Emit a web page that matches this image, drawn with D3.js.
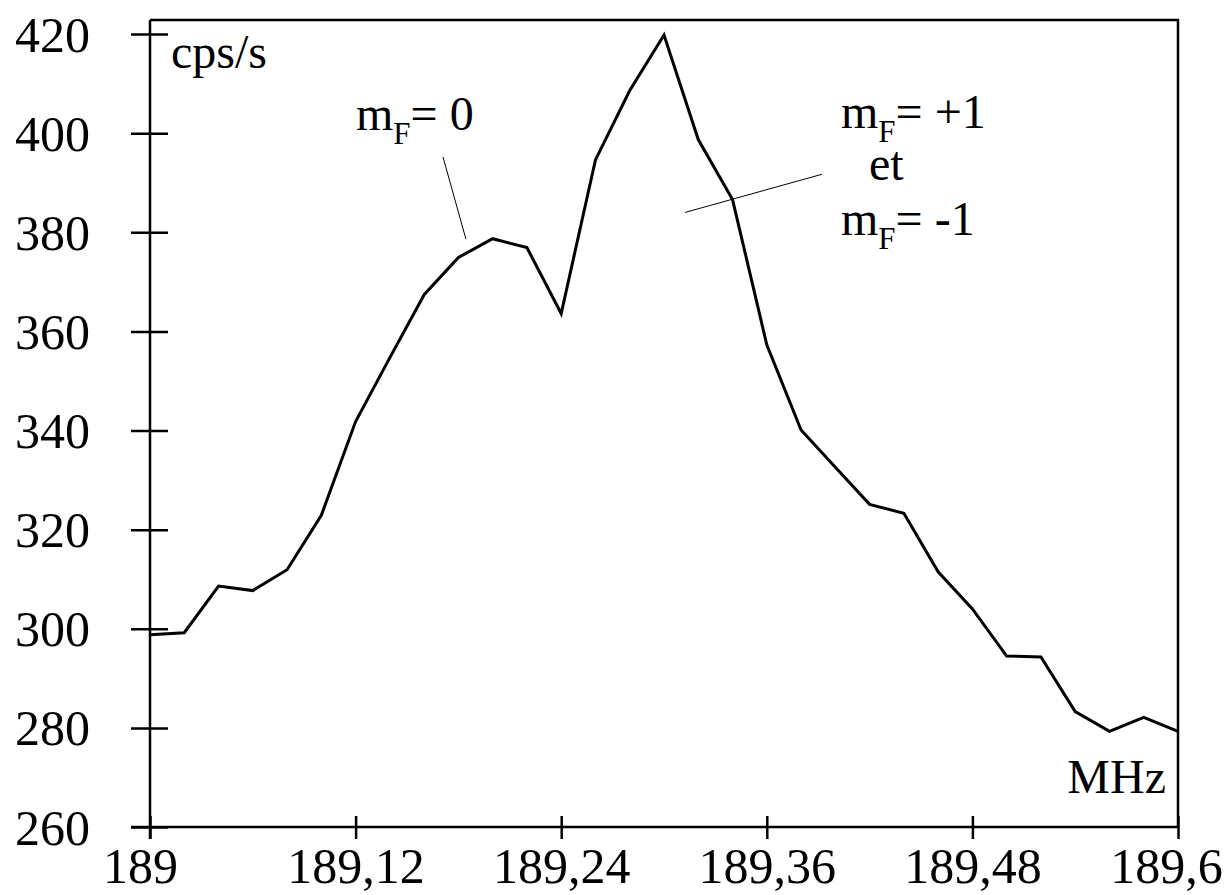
<!DOCTYPE html>
<html>
<head>
<meta charset="utf-8">
<script src="https://cdn.jsdelivr.net/npm/d3@7"></script>
<style>
  html, body { margin: 0; padding: 0; background: #fff; }
  svg { display: block; }
  svg text { font-family: "Liberation Serif", "Times New Roman", Tinos, "DejaVu Serif", serif !important; fill: #000; }
</style>
</head>
<body>
<script>
// Frequency sweep (MHz) and measured count rate (cps/s)
const freqs = [189.00, 189.02, 189.04, 189.06, 189.08, 189.10, 189.12, 189.14, 189.16, 189.18,
               189.20, 189.22, 189.24, 189.26, 189.28, 189.30, 189.32, 189.34, 189.36, 189.38,
               189.40, 189.42, 189.44, 189.46, 189.48, 189.50, 189.52, 189.54, 189.56, 189.58, 189.60];
const counts = [298.8, 299.2, 308.6, 307.7, 311.9, 322.9, 341.8, 354.7, 367.4, 374.9,
                378.7, 376.9, 363.6, 394.6, 408.6, 419.8, 398.7, 386.6, 357.3, 340.1,
                332.6, 325.1, 323.3, 311.5, 304.0, 294.5, 294.3, 283.3, 279.3, 282.1, 279.3];

const xTicks = [189, 189.12, 189.24, 189.36, 189.48, 189.6];
const xTickLabels = ["189", "189,12", "189,24", "189,36", "189,48", "189,6"];
const yTicks = [260, 280, 300, 320, 340, 360, 380, 400, 420];
const yTickLabels = ["260", "280", "300", "320", "340", "360", "380", "400", "420"];

// Leader lines pointing from the labels to the peaks (data units)
const leaderZero = [[189.171, 395.2], [189.1844, 378.6]];
const leaderPlusMinus = [[189.3123, 384.0], [189.3922, 391.7]];

const W = 1228, H = 895;
const mLeft = 150, mRight = 1178, mTop = 20, mBottom = 827;

const x = d3.scaleLinear().domain([189, 189.6]).range([mLeft, mRight]);
const y = d3.scaleLinear().domain([260, 420]).range([mBottom, 34]);

const svg = d3.select("body").append("svg").attr("width", W).attr("height", H);

// Frame: top and right edges
svg.append("path")
  .attr("d", `M${mLeft},${mTop}H${mRight}V${mBottom}`)
  .attr("fill", "none").attr("stroke", "#000").attr("stroke-width", 2.5);

// Y axis
const gy = svg.append("g").attr("transform", `translate(${mLeft},0)`)
  .call(d3.axisLeft(y).tickValues(yTicks).tickFormat((d, i) => yTickLabels[i]).tickSize(0));
gy.attr("font-family", null).attr("font-size", null);
gy.select(".domain").remove();
gy.append("line").attr("x1", 0).attr("x2", 0).attr("y1", mTop).attr("y2", mBottom + 12)
  .attr("stroke", "#000").attr("stroke-width", 2.5);
gy.selectAll(".tick line").attr("x1", -19).attr("x2", 18).attr("stroke", "#000").attr("stroke-width", 2.5);
gy.selectAll(".tick text")
  .attr("x", -60).attr("dy", "0.34em")
  .style("font-size", "50px");

// X axis
const gx = svg.append("g").attr("transform", `translate(0,${mBottom})`)
  .call(d3.axisBottom(x).tickValues(xTicks).tickFormat((d, i) => xTickLabels[i]).tickSize(0));
gx.attr("font-family", null).attr("font-size", null);
gx.select(".domain").remove();
gx.append("line").attr("x1", mLeft - 19).attr("x2", mRight).attr("y1", 0).attr("y2", 0)
  .attr("stroke", "#000").attr("stroke-width", 2.5);
gx.selectAll(".tick line").attr("y1", -11).attr("y2", 12).attr("stroke", "#000").attr("stroke-width", 2.5);
gx.selectAll(".tick text")
  .attr("y", 56).attr("dy", 0)
  .attr("dx", (d, i) => i === 0 ? -10 : (i === xTicks.length - 1 ? -12 : 0))
  .style("font-size", "50px");

// Data curve
const line = d3.line().x((d, i) => x(freqs[i])).y(d => y(d));
svg.append("path")
  .datum(counts)
  .attr("d", line)
  .attr("fill", "none").attr("stroke", "#000").attr("stroke-width", 3)
  .attr("stroke-linejoin", "miter");

// Leader lines
[leaderZero, leaderPlusMinus].forEach(seg => {
  svg.append("line")
    .attr("x1", x(seg[0][0])).attr("y1", y(seg[0][1]))
    .attr("x2", x(seg[1][0])).attr("y2", y(seg[1][1]))
    .attr("stroke", "#000").attr("stroke-width", 1);
});

// Unit labels
svg.append("text").attr("x", 171).attr("y", 68).style("font-size", "48px").text("cps/s");
svg.append("text").attr("x", 1166).attr("y", 793).attr("text-anchor", "end").style("font-size", "48px").text("MHz");

// m_F annotations with subscript F
function mfLabel(xPos, yPos, rest) {
  const t = svg.append("text").attr("x", xPos).attr("y", yPos).style("font-size", "48px");
  t.append("tspan").text("m");
  t.append("tspan").attr("dy", 14).style("font-size", "31px").text("F");
  t.append("tspan").attr("dy", -14).text(rest);
}
mfLabel(356, 130, "= 0");
mfLabel(841, 128, "= +1");
svg.append("text").attr("x", 869).attr("y", 180).style("font-size", "48px").text("et");
mfLabel(841, 235, "= -1");
</script>
</body>
</html>
